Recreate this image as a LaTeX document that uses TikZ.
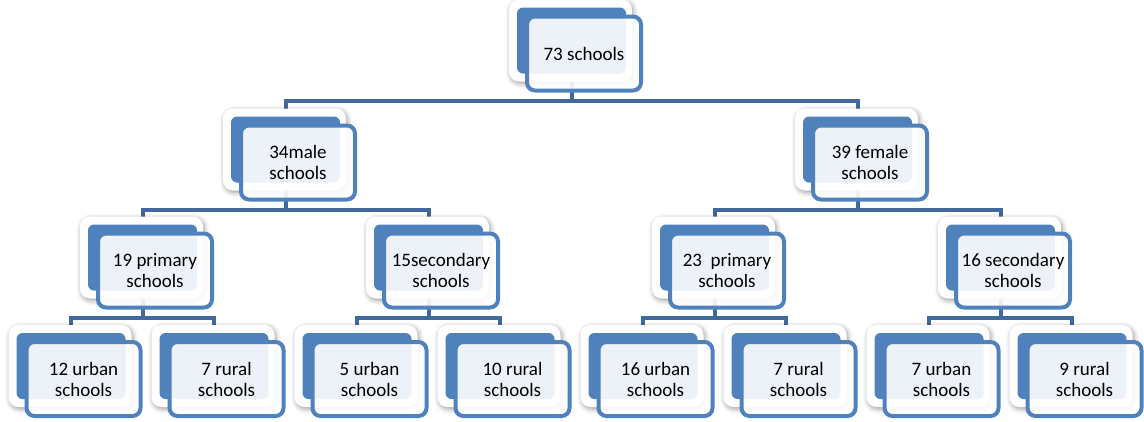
\documentclass[tikz,border=0pt]{standalone}
\usepackage{fontspec}
\setmainfont{Carlito}
\usetikzlibrary{shadows.blur}
\definecolor{smblue}{RGB}{79,129,189}
\definecolor{smline}{RGB}{65,105,158}
\pgfdeclarelayer{bg}
\pgfsetlayers{bg,main}

\begin{document}
\begin{tikzpicture}[x=1pt,y=-1pt,
  every node/.style={font=\fontsize{19}{21}\selectfont},
  card/.style={fill=white,rounded corners=10pt,minimum width=123pt,minimum height=82pt,
    blur shadow={shadow xshift=1.5pt,shadow yshift=-2pt,shadow blur radius=5pt,shadow opacity=40}},
  back/.style={fill=smblue,rounded corners=6pt,minimum width=109pt,minimum height=66pt},
  front/.style={draw=smblue,line width=4pt,fill=white,fill opacity=0.9,text opacity=1,rounded corners=8pt,
    minimum width=114pt,minimum height=74pt,align=center,inner sep=0pt},
  link/.style={draw=smline,line width=4pt}
]
\useasboundingbox (0,0) rectangle (1144,421);

\node[card] (all-c) at (570.5,40.5) {};
\node[back] (all) at (571.5,40.5) {};
\node[front] (all-t) at (584,53.5) {73 schools};

\node[card] (male-c) at (284.5,149.5) {};
\node[back] (male) at (285.5,149.5) {};
\node[front] (male-t) at (298,162.5) {34male\\schools};
\node[card] (female-c) at (856.5,149.5) {};
\node[back] (female) at (857.5,149.5) {};
\node[front] (female-t) at (870,162.5) {39 female\\schools};

\node[card] (mprim-c) at (141.5,257.5) {};
\node[back] (mprim) at (142.5,257.5) {};
\node[front] (mprim-t) at (155,270.5) {19 primary\\schools};
\node[card] (msec-c) at (427.5,257.5) {};
\node[back] (msec) at (428.5,257.5) {};
\node[front] (msec-t) at (441,270.5) {15secondary\\schools};
\node[card] (fprim-c) at (713.5,257.5) {};
\node[back] (fprim) at (714.5,257.5) {};
\node[front] (fprim-t) at (727,270.5) {23\ \ primary\\schools};
\node[card] (fsec-c) at (999.5,257.5) {};
\node[back] (fsec) at (1000.5,257.5) {};
\node[front] (fsec-t) at (1013,270.5) {16 secondary\\schools};

\node[card] (mpu-c) at (70,366) {};
\node[back] (mpu) at (71,366) {};
\node[front] (mpu-t) at (83.5,379) {12 urban\\schools};
\node[card] (mpr-c) at (213,366) {};
\node[back] (mpr) at (214,366) {};
\node[front] (mpr-t) at (226.5,379) {7 rural\\schools};
\node[card] (msu-c) at (356,366) {};
\node[back] (msu) at (357,366) {};
\node[front] (msu-t) at (369.5,379) {5 urban\\schools};
\node[card] (msr-c) at (499,366) {};
\node[back] (msr) at (500,366) {};
\node[front] (msr-t) at (512.5,379) {10 rural\\schools};
\node[card] (fpu-c) at (642,366) {};
\node[back] (fpu) at (643,366) {};
\node[front] (fpu-t) at (655.5,379) {16 urban\\schools};
\node[card] (fpr-c) at (785,366) {};
\node[back] (fpr) at (786,366) {};
\node[front] (fpr-t) at (798.5,379) {7 rural\\schools};
\node[card] (fsu-c) at (928,366) {};
\node[back] (fsu) at (929,366) {};
\node[front] (fsu-t) at (941.5,379) {7 urban\\schools};
\node[card] (fsr-c) at (1071,366) {};
\node[back] (fsr) at (1072,366) {};
\node[front] (fsr-t) at (1084.5,379) {9 rural\\schools};

\begin{pgfonlayer}{bg}
\draw[link] (all) -- (all |- 0,101) -| (male) (all |- 0,101) -| (female);
\draw[link] (male) -- (male |- 0,209.5) -| (mprim) (male |- 0,209.5) -| (msec);
\draw[link] (female) -- (female |- 0,209.5) -| (fprim) (female |- 0,209.5) -| (fsec);
\draw[link] (mprim) -- (mprim |- 0,317.5) -| (mpu) (mprim |- 0,317.5) -| (mpr);
\draw[link] (msec) -- (msec |- 0,317.5) -| (msu) (msec |- 0,317.5) -| (msr);
\draw[link] (fprim) -- (fprim |- 0,317.5) -| (fpu) (fprim |- 0,317.5) -| (fpr);
\draw[link] (fsec) -- (fsec |- 0,317.5) -| (fsu) (fsec |- 0,317.5) -| (fsr);
\end{pgfonlayer}
\end{tikzpicture}
\end{document}
